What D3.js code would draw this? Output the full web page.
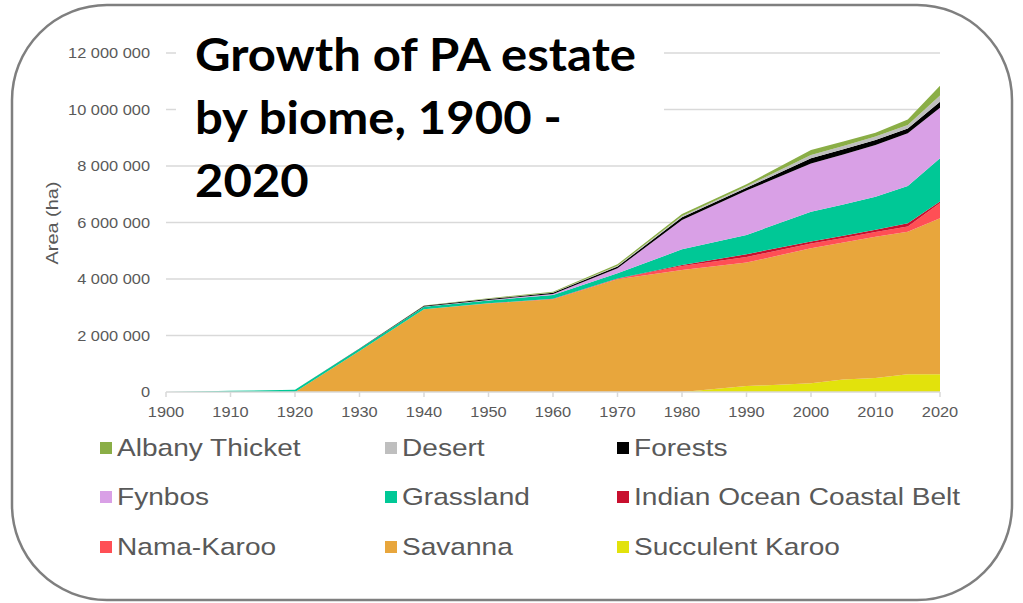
<!DOCTYPE html>
<html>
<head>
<meta charset="utf-8">
<script src="https://cdn.jsdelivr.net/npm/d3@7"></script>
<style>
  body { margin: 0; background: #fff; }
  svg { display: block; }
</style>
</head>
<body>
<div id="chart"></div>
<script>
// data (ha)
const years = [1900, 1910, 1920, 1930, 1940, 1950, 1960, 1970, 1980, 1990, 2000, 2005, 2010, 2015, 2020];
const succulentKaroo = [0, 0, 0, 0, 0, 0, 0, 0, 0, 210000, 310000, 440000, 500000, 630000, 630000];
const savanna = [0, 0, 0, 1450000, 2930000, 3130000, 3280000, 3990000, 4320000, 4370000, 4780000, 4850000, 5000000, 5040000, 5520000];
const namaKaroo = [0, 0, 0, 0, 0, 10000, 10000, 20000, 140000, 200000, 170000, 160000, 160000, 190000, 540000];
const indianOcean = [0, 0, 0, 0, 0, 0, 10000, 10000, 40000, 100000, 70000, 80000, 80000, 110000, 50000];
const grassland = [0, 40000, 80000, 80000, 90000, 100000, 130000, 180000, 550000, 680000, 1050000, 1110000, 1170000, 1320000, 1530000];
const fynbos = [0, 0, 0, 0, 10000, 20000, 40000, 180000, 1040000, 1570000, 1710000, 1770000, 1830000, 1870000, 1790000];
const forests = [0, 0, 0, 10000, 20000, 30000, 40000, 60000, 100000, 100000, 180000, 180000, 180000, 170000, 210000];
const desert = [0, 0, 0, 0, 0, 10000, 10000, 30000, 40000, 50000, 120000, 120000, 120000, 120000, 230000];
const albanyThicket = [0, 0, 0, 0, 10000, 20000, 30000, 50000, 70000, 70000, 180000, 160000, 140000, 200000, 340000];

// legend order (alphabetical), stacked bottom-up in reverse
const biomes = ["Albany Thicket", "Desert", "Forests", "Fynbos", "Grassland",
  "Indian Ocean Coastal Belt", "Nama-Karoo", "Savanna", "Succulent Karoo"];
const biomeValues = [albanyThicket, desert, forests, fynbos, grassland,
  indianOcean, namaKaroo, savanna, succulentKaroo];
const biomeColors = ["#8aae46", "#bfbfbf", "#000000", "#d9a0e6", "#00c896",
  "#c8102e", "#ff4f55", "#e8a63c", "#e2e20c"];

const yTicks = [0, 2000000, 4000000, 6000000, 8000000, 10000000, 12000000];
const xTicks = [1900, 1910, 1920, 1930, 1940, 1950, 1960, 1970, 1980, 1990, 2000, 2010, 2020];

const W = 1023, H = 603;
const SX = 1.17; // the picture is a bit wider than tall

const svg = d3.select("#chart").append("svg")
  .attr("width", W).attr("height", H);

const x = d3.scaleLinear().domain([1900, 2020]).range([166, 940]);
const y = d3.scaleLinear().domain([0, 12000000]).range([392, 53]);

function stretchedText(g, tx, ty, str) {
  return g.append("text")
    .attr("transform", `translate(${tx},${ty}) scale(${SX},1)`)
    .text(str);
}

// frame
svg.append("rect")
  .attr("x", 12).attr("y", 5)
  .attr("width", 1000).attr("height", 595)
  .attr("rx", 95).attr("ry", 95)
  .attr("fill", "#fff")
  .attr("stroke", "#7f7f7f")
  .attr("stroke-width", 2.5);

// gridlines
svg.append("g").selectAll("line")
  .data(yTicks.filter(d => d > 0))
  .join("line")
  .attr("x1", x(1900)).attr("x2", x(2020))
  .attr("y1", d => y(d)).attr("y2", d => y(d))
  .attr("stroke", "#d9d9d9")
  .attr("stroke-width", 1.5);

// stacked areas
const table = years.map((yr, i) => {
  const row = { year: yr };
  biomes.forEach((b, j) => { row[b] = biomeValues[j][i]; });
  return row;
});
const stackOrder = biomes.slice().reverse();
const series = d3.stack().keys(stackOrder)(table);

const area = d3.area()
  .x(d => x(d.data.year))
  .y0(d => y(d[0]))
  .y1(d => y(d[1]));

svg.append("g").selectAll("path")
  .data(series)
  .join("path")
  .attr("d", area)
  .attr("fill", d => biomeColors[biomes.indexOf(d.key)]);

// x axis
const xAxis = svg.append("g");
xAxis.append("line")
  .attr("x1", x(1900)).attr("x2", x(2020))
  .attr("y1", y(0)).attr("y2", y(0))
  .attr("stroke", "#d9d9d9").attr("stroke-width", 1.5);
xAxis.selectAll("line.tick")
  .data(xTicks)
  .join("line")
  .attr("class", "tick")
  .attr("x1", d => x(d)).attr("x2", d => x(d))
  .attr("y1", y(0)).attr("y2", y(0) + 5)
  .attr("stroke", "#d9d9d9").attr("stroke-width", 1.5);

const labelFont = "'Liberation Sans', Arial, sans-serif";
const xl = svg.append("g")
  .attr("font-family", labelFont).attr("font-size", 14)
  .attr("fill", "#595959").attr("text-anchor", "middle");
xTicks.forEach(t => stretchedText(xl, x(t), 417, t));

// y axis labels
const fmt = v => d3.format(",")(v).replace(/,/g, " ");
const yl = svg.append("g")
  .attr("font-family", labelFont).attr("font-size", 14)
  .attr("fill", "#595959").attr("text-anchor", "end");
yTicks.forEach(t => stretchedText(yl, 150, y(t) + 5, fmt(t)));

svg.append("text")
  .attr("transform", `translate(58,223) rotate(-90) scale(${SX},1)`)
  .attr("font-family", labelFont).attr("font-size", 17)
  .attr("fill", "#595959").attr("text-anchor", "middle")
  .text("Area (ha)");

// title box over the top gridlines
svg.append("rect")
  .attr("x", 176).attr("y", 28)
  .attr("width", 488).attr("height", 122)
  .attr("fill", "#fff");

const titleLines = ["Growth of PA estate", "by biome, 1900 -", "2020"];
const tg = svg.append("g")
  .attr("font-family", "Lato, 'Open Sans', sans-serif")
  .attr("font-weight", 700).attr("font-size", 45)
  .attr("fill", "#000");
const first = tg.append("text").text(titleLines[0]);
const tsx = 441 / first.node().getComputedTextLength();
first.remove();
titleLines.forEach((line, i) => {
  tg.append("text")
    .attr("transform", `translate(195,${71 + i * 63}) scale(${tsx},1)`)
    .text(line);
});

// legend
const colX = [100, 385, 617];
const rowY = [448, 497, 547];
const lg = svg.append("g")
  .attr("font-family", labelFont).attr("font-size", 24)
  .attr("fill", "#595959");
biomes.forEach((b, i) => {
  const cx = colX[i % 3], cy = rowY[Math.floor(i / 3)];
  lg.append("rect")
    .attr("x", cx).attr("y", cy - 6)
    .attr("width", 12).attr("height", 12)
    .attr("fill", biomeColors[i]);
  stretchedText(lg, cx + 17, cy + 8, b);
});
</script>
</body>
</html>
